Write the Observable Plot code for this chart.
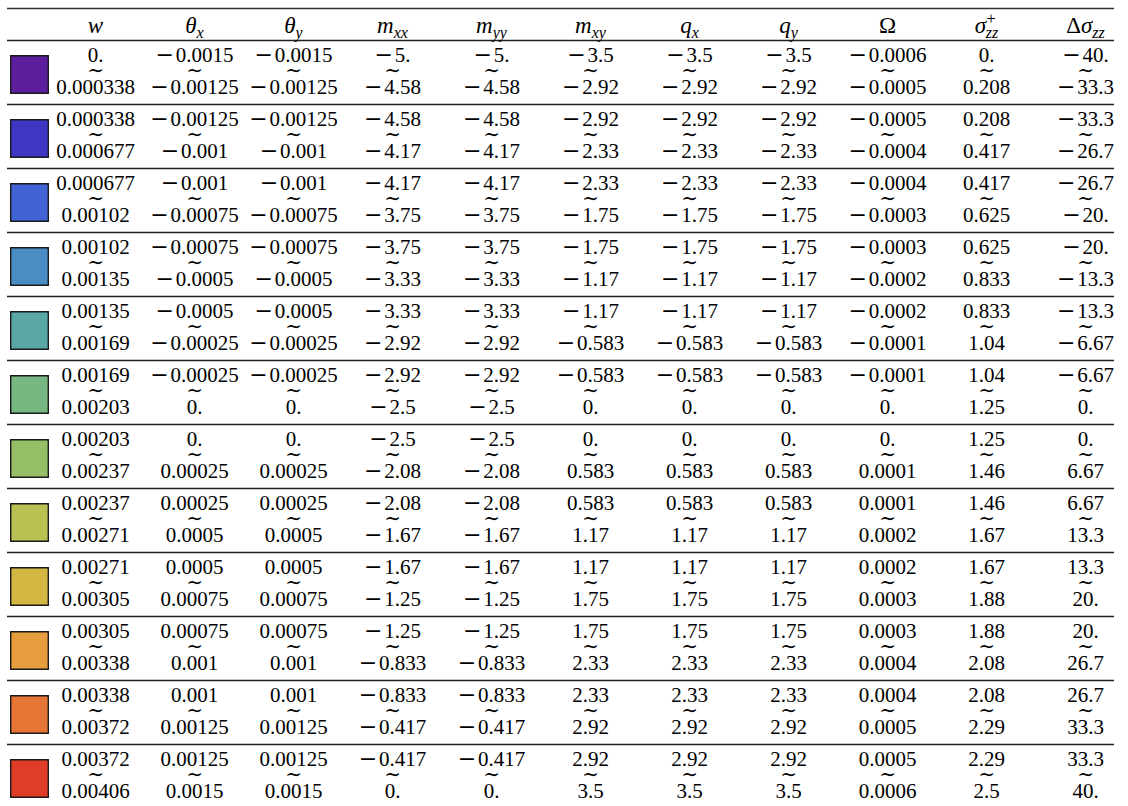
<!DOCTYPE html>
<html>
<head>
<meta charset="utf-8">
<script src="https://cdn.jsdelivr.net/npm/d3@7"></script>
<script src="https://cdn.jsdelivr.net/npm/@observablehq/plot@0.6"></script>
<style>
  html, body { margin: 0; padding: 0; background: white; }
  #chart svg { display: block; }
</style>
</head>
<body>
<div id="chart"></div>
<script>
// ---- data ----
const columns = ["w", "thetaX", "thetaY", "mxx", "myy", "mxy", "qx", "qy", "Omega", "sigmaPlus", "deltaSigma"];
const headerBase = ["w", "θ", "θ", "m", "m", "m", "q", "q", "Ω", "σ", "Δσ"];
const headerSub  = ["", "x", "y", "xx", "yy", "xy", "x", "y", "", "zz", "zz"];
const headerSup  = ["", "", "", "", "", "", "", "", "", "+", ""];

const wBreaks      = ["0.", "0.000338", "0.000677", "0.00102", "0.00135", "0.00169", "0.00203", "0.00237", "0.00271", "0.00305", "0.00338", "0.00372", "0.00406"];
const thetaXBreaks = ["−0.0015", "−0.00125", "−0.001", "−0.00075", "−0.0005", "−0.00025", "0.", "0.00025", "0.0005", "0.00075", "0.001", "0.00125", "0.0015"];
const thetaYBreaks = ["−0.0015", "−0.00125", "−0.001", "−0.00075", "−0.0005", "−0.00025", "0.", "0.00025", "0.0005", "0.00075", "0.001", "0.00125", "0.0015"];
const mxxBreaks    = ["−5.", "−4.58", "−4.17", "−3.75", "−3.33", "−2.92", "−2.5", "−2.08", "−1.67", "−1.25", "−0.833", "−0.417", "0."];
const myyBreaks    = ["−5.", "−4.58", "−4.17", "−3.75", "−3.33", "−2.92", "−2.5", "−2.08", "−1.67", "−1.25", "−0.833", "−0.417", "0."];
const mxyBreaks    = ["−3.5", "−2.92", "−2.33", "−1.75", "−1.17", "−0.583", "0.", "0.583", "1.17", "1.75", "2.33", "2.92", "3.5"];
const qxBreaks     = ["−3.5", "−2.92", "−2.33", "−1.75", "−1.17", "−0.583", "0.", "0.583", "1.17", "1.75", "2.33", "2.92", "3.5"];
const qyBreaks     = ["−3.5", "−2.92", "−2.33", "−1.75", "−1.17", "−0.583", "0.", "0.583", "1.17", "1.75", "2.33", "2.92", "3.5"];
const omegaBreaks  = ["−0.0006", "−0.0005", "−0.0004", "−0.0003", "−0.0002", "−0.0001", "0.", "0.0001", "0.0002", "0.0003", "0.0004", "0.0005", "0.0006"];
const sigmaBreaks  = ["0.", "0.208", "0.417", "0.625", "0.833", "1.04", "1.25", "1.46", "1.67", "1.88", "2.08", "2.29", "2.5"];
const dSigmaBreaks = ["−40.", "−33.3", "−26.7", "−20.", "−13.3", "−6.67", "0.", "6.67", "13.3", "20.", "26.7", "33.3", "40."];

const swatchColors = ["#5d1e9d", "#3f37c4", "#4263d3", "#4a8dc4", "#5aa7a7", "#77b781",
                      "#95bf66", "#b8c152", "#d4b642", "#e59d3d", "#e67635", "#df3d27"];

// ---- tables built from the arrays ----
const breaksByColumn = [wBreaks, thetaXBreaks, thetaYBreaks, mxxBreaks, myyBreaks, mxyBreaks,
                        qxBreaks, qyBreaks, omegaBreaks, sigmaBreaks, dSigmaBreaks];
const rowIndex = d3.range(swatchColors.length);
const cells = [];
for (const r of rowIndex) {
  columns.forEach((c, j) => {
    cells.push({row: r, col: c, lo: breaksByColumn[j][r], hi: breaksByColumn[j][r + 1]});
  });
}
const ruleRows = [0, ...rowIndex.slice(1)];
const headerItems = columns.map((c, i) => ({col: c, i}));

const chart = Plot.plot({
  width: 1128,
  height: 806,
  marginLeft: 7,
  marginRight: 14,
  marginTop: 0,
  marginBottom: 0,
  x: {type: "point", domain: columns, range: [95, 1085], padding: 0, axis: null},
  y: {type: "linear", domain: [-0.5, 12], range: [8, 808], axis: null},
  color: {type: "identity"},
  style: {fontFamily: "'Liberation Serif', 'DejaVu Serif', serif", fontSize: "21px", background: "white", color: "black"},
  marks: [
    Plot.ruleY([-0.5], {stroke: "#333", strokeWidth: 1.7}),
    Plot.ruleY(ruleRows, {stroke: "#222", strokeWidth: 1.3}),
    Plot.dot(rowIndex, {
      x: () => "w", y: (r) => r + 0.5, dx: -66, dy: 2,
      symbol: "square", r: 21.2,
      fill: (r) => swatchColors[r], stroke: "#1a1a1a", strokeWidth: 1.4
    }),
    Plot.text(cells, {x: "col", y: (d) => d.row + 0.5, text: "lo", dy: -17, fill: "black"}),
    Plot.text(cells, {x: "col", y: (d) => d.row + 0.5, text: () => "∼", dy: -2, fontSize: 20, fill: "black", fontFamily: "'DejaVu Serif', serif"}),
    Plot.text(cells, {x: "col", y: (d) => d.row + 0.5, text: "hi", dy: 15, fill: "black"}),
    Plot.text(headerItems, {x: "col", y: () => -0.25, text: (d) => headerBase[d.i], dy: 1, fontSize: 23, fill: "black"})
  ]
});

const groups = chart.querySelectorAll(":scope > g");
const headerGroup = groups[groups.length - 1];

// TeX-style minus: a longer bar set from DejaVu Sans
d3.select(chart).selectAll("text").each(function() {
  if (this.parentNode === headerGroup) return;
  const s = this.textContent;
  if (s && s.startsWith("−")) {
    const t = d3.select(this);
    t.text(null);
    t.append("tspan").attr("font-family", "'DejaVu Sans', sans-serif").attr("font-size", 22).text("−");
    t.append("tspan").attr("dx", 2).text(s.slice(1));
  }
});

// rebuild header texts with math-style italic / subscripts / superscripts
d3.select(headerGroup).selectAll("text").each(function(_, i) {
  const t = d3.select(this);
  t.selectAll("*").remove();
  t.text(null);
  const base = headerBase[i];
  if (base === "Ω") {
    t.append("tspan").text("Ω");
  } else if (base === "Δσ") {
    t.append("tspan").text("Δ");
    t.append("tspan").attr("font-style", "italic").text("σ");
  } else {
    t.append("tspan").attr("font-style", "italic").text(base);
  }
  const sup = headerSup[i];
  const sub = headerSub[i];
  if (sup) {
    t.append("tspan").attr("font-size", 17).attr("dy", -9).text(sup);
    t.append("tspan").attr("font-size", 16).attr("font-style", "italic").attr("dx", -10).attr("dy", 14).text(sub);
  } else if (sub) {
    t.append("tspan").attr("font-size", 16).attr("font-style", "italic").attr("dy", 5).text(sub);
  }
});

document.getElementById("chart").appendChild(chart);
</script>
</body>
</html>
